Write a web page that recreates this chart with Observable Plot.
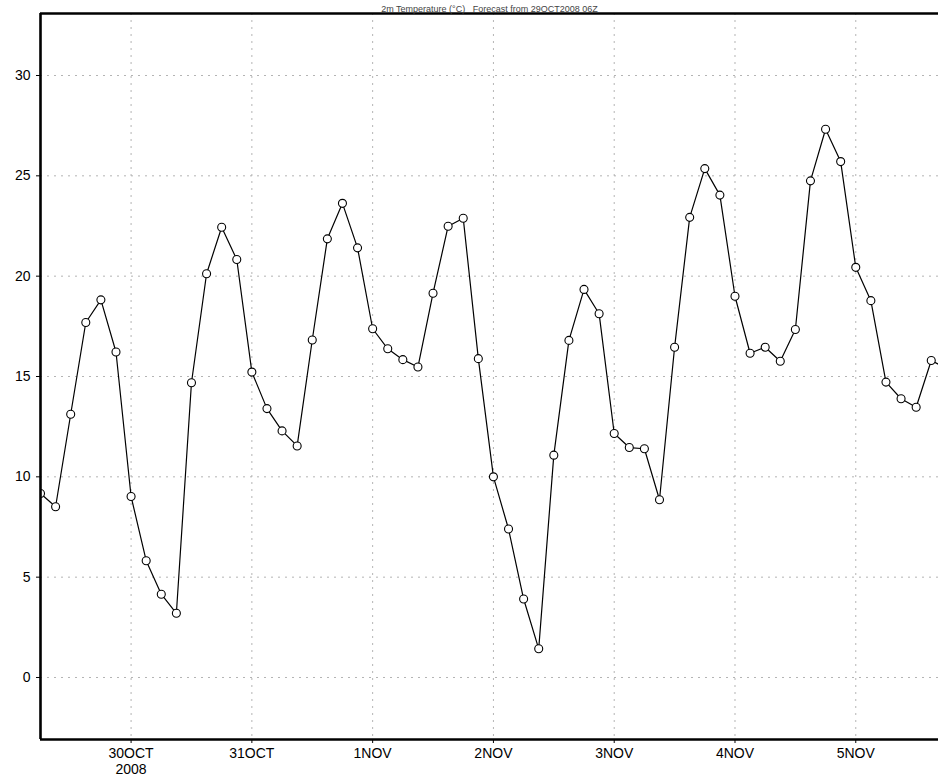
<!DOCTYPE html>
<html>
<head>
<meta charset="utf-8">
<script src="https://cdn.jsdelivr.net/npm/d3@7"></script>
<script src="https://cdn.jsdelivr.net/npm/@observablehq/plot@0.6"></script>
<style>
  html, body { margin: 0; padding: 0; background: #fff; overflow: hidden; }
  #chart svg { display: block; }
</style>
</head>
<body>
<div id="chart"></div>
<script>
// Series: 3-hourly 2 m temperature (°C), starting 29 Oct 2008 06 UTC
const startTime = "2008-10-29T06:00:00Z";
const stepHours = 3;
const temperature = [
  9.17, 8.51, 13.12, 17.69, 18.82, 16.22, 9.02, 5.82, 4.15, 3.20,
  14.69, 20.12, 22.44, 20.83, 15.22, 13.40, 12.29, 11.54, 16.82, 21.86,
  23.63, 21.41, 17.38, 16.38, 15.84, 15.47, 19.15, 22.49, 22.89, 15.89,
  10.00, 7.40, 3.91, 1.43, 11.08, 16.80, 19.34, 18.13, 12.16, 11.46,
  11.40, 8.86, 16.46, 22.93, 25.36, 24.04, 19.00, 16.16, 16.46, 15.76,
  17.34, 24.75, 27.32, 25.71, 20.44, 18.78, 14.72, 13.89, 13.47, 15.80,
  15.40
];
// X tick positions and labels
const xTickDates = ["2008-10-30", "2008-10-31", "2008-11-01", "2008-11-02", "2008-11-03", "2008-11-04", "2008-11-05"];
const xTickLabels = ["30OCT\n2008", "31OCT", "1NOV", "2NOV", "3NOV", "4NOV", "5NOV"];
// Y ticks
const yTicks = [0, 5, 10, 15, 20, 25, 30];
const titleText = "2m Temperature (°C)   Forecast from 29OCT2008 06Z";

const t0 = new Date(startTime);
const data = temperature.map((v, i) => ({time: d3.utcHour.offset(t0, stepHours * i), value: v}));
const tickDates = xTickDates.map(s => new Date(s + "T00:00:00Z"));
const labelFor = new Map(tickDates.map((d, i) => [+d, xTickLabels[i]]));

const xDomain = [t0, new Date(+t0 + 7.435 * 86400000)];
const yDomain = [-3.09, 33.09];

const grid = {stroke: "#b4b4b4", strokeDasharray: "2,5", strokeWidth: 1};

const chart = Plot.plot({
  width: 938,
  height: 776,
  marginLeft: 40,
  marginRight: 0,
  marginTop: 13,
  marginBottom: 37,
  style: {fontFamily: "'Liberation Sans', Arial, sans-serif", fontSize: "14px", color: "#000", background: "#fff"},
  x: {type: "utc", domain: xDomain, label: null},
  y: {domain: yDomain, label: null},
  marks: [
    Plot.ruleY(yTicks, {...grid}),
    Plot.ruleX(tickDates, {...grid}),
    Plot.axisY({ticks: yTicks, tickSize: 4, tickPadding: 6, fontSize: 14, label: null, stroke: "#000", strokeWidth: 1}),
    Plot.axisX({ticks: tickDates, tickSize: 4, tickPadding: 3, fontSize: 14, lineHeight: 1.15,
      tickFormat: d => labelFor.get(+d) ?? "", label: null, stroke: "#000", strokeWidth: 1}),
    Plot.lineY(data, {x: "time", y: "value", stroke: "#000", strokeWidth: 1.2, clip: true}),
    Plot.dot(data, {x: "time", y: "value", r: 4, fill: "#fff", stroke: "#000", strokeWidth: 1.1, clip: true}),
    Plot.ruleX([xDomain[0]], {stroke: "#000", strokeWidth: 2.6}),
    Plot.ruleY([yDomain[0], yDomain[1]], {stroke: "#000", strokeWidth: 2.6}),
    Plot.text([titleText], {frameAnchor: "top", dy: -2, lineAnchor: "bottom", fontSize: 9, fill: "#444"})
  ]
});
document.getElementById("chart").appendChild(chart);
</script>
</body>
</html>
